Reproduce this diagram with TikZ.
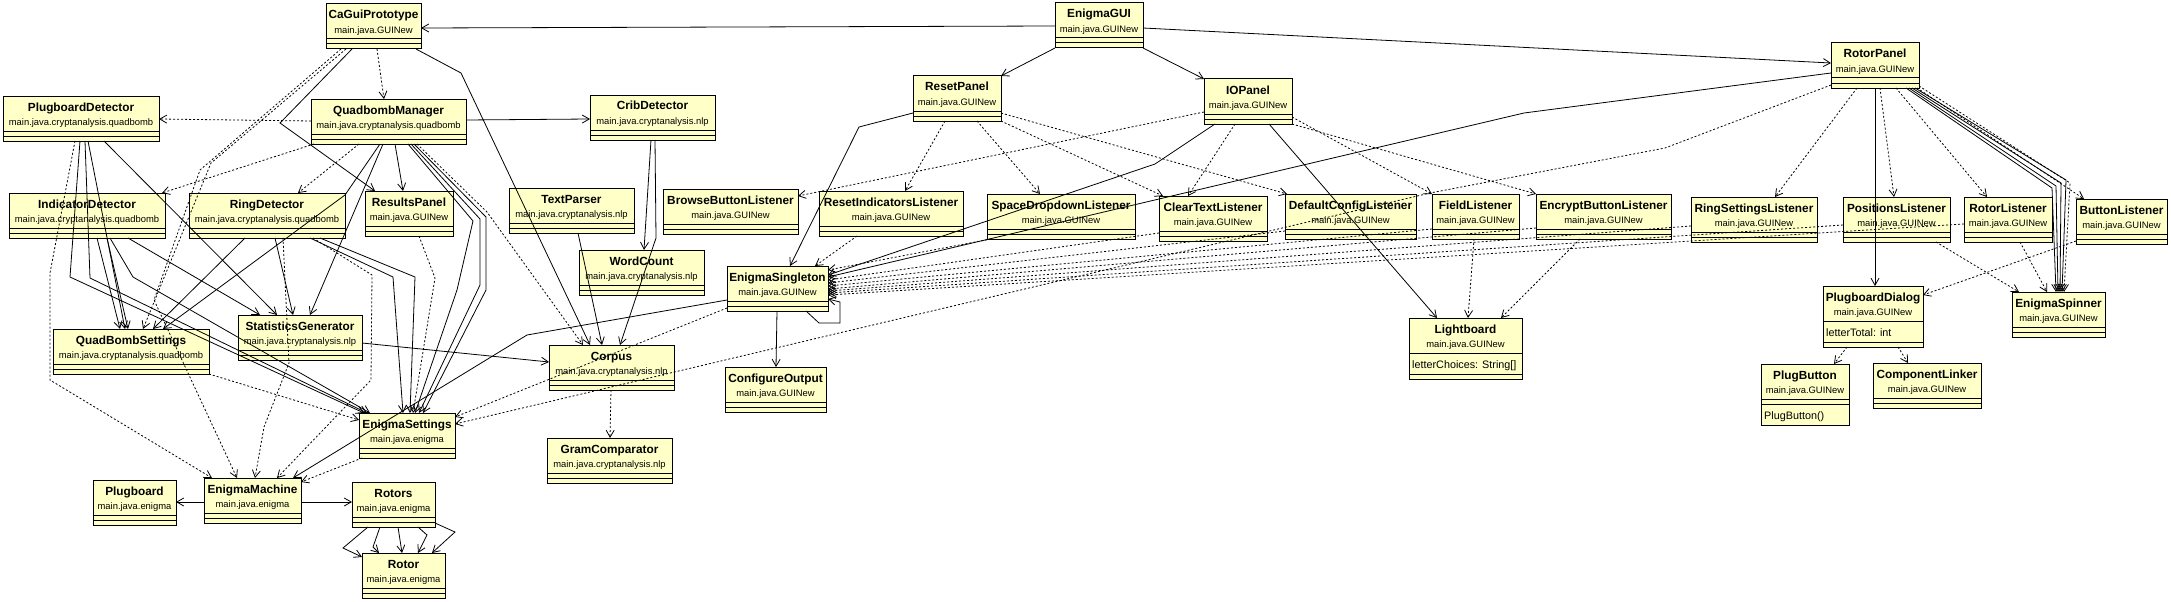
\documentclass[tikz,border=0pt]{standalone}
\usepackage{fontspec}
\setmainfont{Liberation Sans}
\usetikzlibrary{arrows.meta,calc}
\definecolor{clsfill}{RGB}{255,255,200}
\tikzset{
  clsbox/.style={draw=black, fill=clsfill, line width=1pt, rectangle, inner sep=0pt, outer sep=0pt},
  ttl/.style={anchor=base, inner sep=0pt, font=\bfseries\fontsize{11.8}{12}\selectfont},
  pkg/.style={anchor=base, inner sep=0pt, font=\fontsize{9.4}{10}\selectfont},
  attr/.style={anchor=base west, inner sep=0pt, font=\fontsize{10.8}{11}\selectfont},
  sepline/.style={line width=1pt},
  conn/.style={line width=0.8pt, -{Straight Barb[length=7pt,width=8pt]}},
  dep/.style={conn, dash pattern=on 2pt off 2pt},
}
% name, x1, y1, x2, y2, title, package
\newcommand\umlbox[7]{%
  \node[clsbox, minimum width={(#4)-(#2)}, minimum height={(#5)-(#3)}] (#1) at ({((#2)+(#4))/2},{((#3)+(#5))/2}) {};
  \node[ttl] at ({((#2)+(#4))/2},{(#3)+15}) {#6};
  \node[pkg] at ({((#2)+(#4))/2},{(#3)+29.5}) {#7};
  \draw[sepline] ({#2},{(#3)+35}) -- ({#4},{(#3)+35});
  \draw[sepline] ({#2},{(#3)+40}) -- ({#4},{(#3)+40});
}
% with one attribute
\newcommand\umlboxA[8]{%
  \node[clsbox, minimum width={(#4)-(#2)}, minimum height={(#5)-(#3)}] (#1) at ({((#2)+(#4))/2},{((#3)+(#5))/2}) {};
  \node[ttl] at ({((#2)+(#4))/2},{(#3)+15}) {#6};
  \node[pkg] at ({((#2)+(#4))/2},{(#3)+29.5}) {#7};
  \draw[sepline] ({#2},{(#3)+35}) -- ({#4},{(#3)+35});
  \node[attr] at ({(#2)+3},{(#3)+50}) {#8};
  \draw[sepline] ({#2},{(#3)+56}) -- ({#4},{(#3)+56});
}
\begin{document}
\begin{tikzpicture}[x=1pt,y=-1pt]
\fill[white] (0,0) rectangle (2171,602);
\useasboundingbox (0,0) rectangle (2171,602);

% ---------- classes ----------
\umlbox{CGP}{326}{4}{421}{49}{CaGuiPrototype}{main.java.GUINew}
\umlbox{EG}{1055}{3}{1143}{48}{EnigmaGUI}{main.java.GUINew}
\umlbox{RP}{1831}{43}{1919}{88}{RotorPanel}{main.java.GUINew}
\umlbox{PD}{3}{96}{159}{141}{PlugboardDetector}{main.java.cryptanalysis.quadbomb}
\umlbox{QM}{311}{99}{466}{144}{QuadbombManager}{main.java.cryptanalysis.quadbomb}
\umlbox{CD}{590}{95}{715}{140}{CribDetector}{main.java.cryptanalysis.nlp}
\umlbox{RsP}{913}{76}{1001}{121}{ResetPanel}{main.java.GUINew}
\umlbox{IOP}{1204}{79}{1292}{124}{IOPanel}{main.java.GUINew}
\umlbox{ID}{9}{193}{165}{238}{IndicatorDetector}{main.java.cryptanalysis.quadbomb}
\umlbox{RD}{189}{193}{345}{238}{RingDetector}{main.java.cryptanalysis.quadbomb}
\umlbox{RsltP}{365}{191}{453}{236}{ResultsPanel}{main.java.GUINew}
\umlbox{TP}{509}{188}{634}{233}{TextParser}{main.java.cryptanalysis.nlp}
\umlbox{BBL}{663}{189}{798}{234}{BrowseButtonListener}{main.java.GUINew}
\umlbox{RIL}{819}{191}{963}{236}{ResetIndicatorsListener}{main.java.GUINew}
\umlbox{SDL}{987}{194}{1135}{239}{SpaceDropdownListener}{main.java.GUINew}
\umlbox{CTL}{1159}{196}{1267}{241}{ClearTextListener}{main.java.GUINew}
\umlbox{DCL}{1285}{194}{1416}{239}{DefaultConfigListener}{main.java.GUINew}
\umlbox{FL}{1432}{194}{1519}{239}{FieldListener}{main.java.GUINew}
\umlbox{EBL}{1536}{194}{1671}{239}{EncryptButtonListener}{main.java.GUINew}
\umlbox{RSL}{1691}{197}{1817}{242}{RingSettingsListener}{main.java.GUINew}
\umlbox{PosL}{1843}{197}{1950}{242}{PositionsListener}{main.java.GUINew}
\umlbox{RL}{1964}{197}{2052}{242}{RotorListener}{main.java.GUINew}
\umlbox{BL}{2076}{199}{2167}{244}{ButtonListener}{main.java.GUINew}
\umlbox{WC}{579}{250}{704}{295}{WordCount}{main.java.cryptanalysis.nlp}
\umlbox{ESing}{727}{266}{828}{311}{EnigmaSingleton}{main.java.GUINew}
\umlbox{QBS}{53}{329}{209}{374}{QuadBombSettings}{main.java.cryptanalysis.quadbomb}
\umlbox{SG}{238}{315}{362}{360}{StatisticsGenerator}{main.java.cryptanalysis.nlp}
\umlbox{Corpus}{549}{345}{674}{390}{Corpus}{main.java.cryptanalysis.nlp}
\umlbox{CO}{725}{367}{826}{412}{ConfigureOutput}{main.java.GUINew}
\umlboxA{LB}{1409}{318}{1522}{379}{Lightboard}{main.java.GUINew}{letterChoices: String[]}
\umlboxA{PDlg}{1823}{286}{1923}{347}{PlugboardDialog}{main.java.GUINew}{letterTotal: int}
\umlbox{ESp}{2012}{292}{2105}{337}{EnigmaSpinner}{main.java.GUINew}
\umlbox{PB}{1761}{364}{1849}{425}{PlugButton}{main.java.GUINew}
\node[attr] (PBm) at (1764,419) {PlugButton()};
\umlbox{CL}{1873}{363}{1981}{408}{ComponentLinker}{main.java.GUINew}
\umlbox{ES}{359}{413}{455}{458}{EnigmaSettings}{main.java.enigma}
\umlbox{GC}{547}{438}{672}{483}{GramComparator}{main.java.cryptanalysis.nlp}
\umlbox{PBd}{93}{480}{176}{525}{Plugboard}{main.java.enigma}
\umlbox{EM}{204}{478}{301}{523}{EnigmaMachine}{main.java.enigma}
\umlbox{Rotors}{352}{482}{435}{527}{Rotors}{main.java.enigma}
\umlbox{Rotor}{362}{553}{445}{598}{Rotor}{main.java.enigma}

% ---------- associations (solid) ----------
\draw[conn] ($(EG.north west)+(0,23)$) -- ($(CGP.north west)+(95,24)$);
\draw[conn] ($(EG.north west)+(0,45)$) -- ($(RsP.north west)+(88,0)$);
\draw[conn] ($(EG.north west)+(88,45)$) -- ($(IOP.north west)+(0,0)$);
\draw[conn] ($(EG.north west)+(88,25)$) -- ($(RP.north west)+(0,20)$);
\draw[conn] ($(QM.north west)+(155,21)$) -- ($(CD.north west)+(0,24)$);
\draw[conn] ($(CGP.north west)+(26,45)$) -- (280,123) -- ($(RsltP.north west)+(10,0)$);
\draw[conn] ($(CGP.north west)+(90,45)$) -- (461,73) -- ($(Corpus.north west)+(41,0)$);
\draw[conn] ($(CD.north west)+(61,45)$) -- ($(WC.north west)+(65,0)$);
\draw[conn] ($(CD.north west)+(65,45)$) -- (656,238) -- ($(Corpus.north west)+(71,0)$);
\draw[conn] ($(TP.north west)+(69,45)$) -- ($(Corpus.north west)+(53,0)$);
\draw[conn] ($(SG.north west)+(124,28)$) -- ($(Corpus.north west)+(0,17)$);
\draw[conn] ($(PD.north west)+(101,45)$) -- ($(SG.north west)+(39,0)$);
\draw[conn] ($(PD.north west)+(77,45)$) -- (70,277) -- ($(ES.north west)+(5,0)$);
\draw[conn] ($(PD.north west)+(82,45)$) -- (90,278) -- ($(ES.north west)+(8,0)$);
\draw[conn] ($(PD.north west)+(85,45)$) -- ($(QBS.north west)+(72,0)$);
\draw[conn] ($(ID.north west)+(88,45)$) -- ($(QBS.north west)+(67,0)$);
\draw[conn] ($(ID.north west)+(98,45)$) -- ($(QBS.north west)+(75,0)$);
\draw[conn] ($(ID.north west)+(101,45)$) -- (133,277) -- ($(ES.north west)+(11,0)$);
\draw[conn] ($(ID.north west)+(119,45)$) -- ($(SG.north west)+(22,0)$);
\draw[conn] ($(RD.north west)+(56,45)$) -- ($(QBS.north west)+(100,0)$);
\draw[conn] ($(RD.north west)+(86,45)$) -- ($(SG.north west)+(55,0)$);
\draw[conn] ($(RD.north west)+(121,45)$) -- (393,277) -- ($(ES.north west)+(44,0)$);
\draw[conn] ($(RD.north west)+(131,45)$) -- (415,277) -- ($(ES.north west)+(51,0)$);
\draw[conn] ($(QM.north west)+(69,45)$) -- (345,195) -- ($(QBS.north west)+(110,0)$);
\draw[conn] ($(QM.north west)+(72,45)$) -- ($(SG.north west)+(72,0)$);
\draw[conn] ($(QM.north west)+(84,45)$) -- ($(RsltP.north west)+(38,0)$);
\draw[conn] ($(QM.north west)+(97,45)$) -- (473,221) -- (457,290) -- ($(ES.north west)+(56,0)$);
\draw[conn] ($(QM.north west)+(100,45)$) -- (480,219) -- (480,285) -- ($(ES.north west)+(60,0)$);
\draw[conn] ($(QM.north west)+(103,45)$) -- (486,217) -- (486,290) -- ($(ES.north west)+(64,0)$);
\draw[conn] ($(ESing.north west)+(0,34)$) -- (527,335) -- ($(EM.north west)+(89,0)$);
\draw[conn] ($(ESing.north west)+(50,45)$) -- ($(CO.north west)+(51,0)$);
\draw[conn] ($(ESing.north west)+(79,45)$) -- (819,323) -- (840,323) -- (840,302) -- ($(ESing.north west)+(101,33)$);
\draw[conn] ($(RsP.north west)+(0,37)$) -- (859,127) -- ($(ESing.north west)+(63,0)$);
\draw[conn] ($(IOP.north west)+(11,45)$) -- (1155,164) -- ($(ESing.north west)+(101,9)$);
\draw[conn] ($(IOP.north west)+(65,45)$) -- ($(LB.north west)+(28,0)$);
\draw[conn] ($(RP.north west)+(0,30)$) -- (1524,113) -- ($(ESing.north west)+(101,11)$);
\draw[conn] ($(RP.north west)+(44,45)$) -- ($(PDlg.north west)+(52,0)$);
\draw[conn] ($(RP.north west)+(75,45)$) -- (2052,188) -- ($(ESp.north west)+(44,0)$);
\draw[conn] ($(RP.north west)+(78,45)$) -- (2056,186) -- ($(ESp.north west)+(46,0)$);
\draw[conn] ($(RP.north west)+(81,45)$) -- (2061,183) -- ($(ESp.north west)+(48,0)$);
\draw[conn] ($(RP.north west)+(84,45)$) -- (2066,180) -- ($(ESp.north west)+(50,0)$);
\draw[conn] ($(EM.north west)+(0,24)$) -- ($(PBd.north west)+(83,22)$);
\draw[conn] ($(EM.north west)+(97,24)$) -- ($(Rotors.north west)+(0,20)$);
\draw[conn] ($(Rotors.north west)+(16,45)$) -- (343,548) -- ($(Rotor.north west)+(0,4)$);
\draw[conn] ($(Rotors.north west)+(28,45)$) -- (373,547) -- ($(Rotor.north west)+(17,0)$);
\draw[conn] ($(Rotors.north west)+(46,45)$) -- ($(Rotor.north west)+(40,0)$);
\draw[conn] ($(Rotors.north west)+(66,45)$) -- (427,535) -- ($(Rotor.north west)+(56,0)$);
\draw[conn] ($(Rotors.north west)+(83,41)$) -- (455,532) -- ($(Rotor.north west)+(70,0)$);

% ---------- dependencies (dashed) ----------
\draw[dep] ($(CGP.north west)+(51,45)$) -- ($(QM.north west)+(73,0)$);
\draw[dep] ($(QM.north west)+(0,22)$) -- ($(PD.north west)+(156,23)$);
\draw[dep] ($(CGP.north west)+(20,45)$) -- (211,163) -- ($(QBS.north west)+(90,0)$);
\draw[dep] ($(CGP.north west)+(15,45)$) -- (200,170) -- (154,300) -- ($(EM.north west)+(33,0)$);
\draw[dep] ($(PD.north west)+(72,45)$) -- (50,273) -- (50,380) -- ($(EM.north west)+(8,0)$);
\draw[dep] ($(QM.north west)+(3,45)$) -- ($(ID.north west)+(153,0)$);
\draw[dep] ($(QM.north west)+(48,45)$) -- ($(RD.north west)+(109,0)$);
\draw[dep] ($(QM.north west)+(106,45)$) -- (487,212) -- ($(Corpus.north west)+(34,0)$);
\draw[dep] ($(RD.north west)+(94,45)$) -- (289,363) -- (264,427) -- ($(EM.north west)+(51,0)$);
\draw[dep] ($(RD.north west)+(124,45)$) -- (372,275) -- (371,380) -- ($(EM.north west)+(73,0)$);
\draw[dep] ($(RsltP.north west)+(54,45)$) -- (435,278) -- ($(ES.north west)+(54,0)$);
\draw[dep] ($(QBS.north west)+(156,45)$) -- ($(ES.north west)+(0,7)$);
\draw[dep] ($(ES.north west)+(3,45)$) -- ($(EM.north west)+(97,4)$);
\draw[dep] ($(ESing.north west)+(0,42)$) -- ($(ES.north west)+(96,4)$);
\draw[dep] ($(RP.north west)+(0,42)$) -- (1665,148) -- (1430,193) -- ($(ES.north west)+(96,11)$);
\draw[dep] ($(Corpus.north west)+(62,45)$) -- ($(GC.north west)+(63,0)$);
\draw[dep] ($(RsP.north west)+(32,45)$) -- ($(RIL.north west)+(86,0)$);
\draw[dep] ($(RsP.north west)+(64,45)$) -- ($(SDL.north west)+(53,0)$);
\draw[dep] ($(RsP.north west)+(88,45)$) -- ($(CTL.north west)+(4,0)$);
\draw[dep] ($(RsP.north west)+(88,37)$) -- ($(DCL.north west)+(2,0)$);
\draw[dep] ($(IOP.north west)+(0,33)$) -- ($(BBL.north west)+(135,7)$);
\draw[dep] ($(IOP.north west)+(31,45)$) -- ($(CTL.north west)+(29,0)$);
\draw[dep] ($(IOP.north west)+(88,38)$) -- ($(FL.north west)+(0,0)$);
\draw[dep] ($(IOP.north west)+(88,45)$) -- ($(EBL.north west)+(0,0)$);
\draw[dep] ($(RIL.north west)+(38,45)$) -- ($(ESing.north west)+(88,0)$);
\draw[dep] ($(SDL.north west)+(4,45)$) -- ($(ESing.north west)+(101,4)$);
\draw[dep] ($(CTL.north west)+(0,37)$) -- ($(ESing.north west)+(101,14)$);
\draw[dep] ($(DCL.north west)+(0,37)$) -- ($(ESing.north west)+(101,17)$);
\draw[dep] ($(FL.north west)+(0,35)$) -- ($(ESing.north west)+(101,20)$);
\draw[dep] ($(EBL.north west)+(0,34)$) -- ($(ESing.north west)+(101,23)$);
\draw[dep] ($(RSL.north west)+(0,29)$) -- ($(ESing.north west)+(101,25)$);
\draw[dep] ($(PosL.north west)+(0,28)$) -- ($(ESing.north west)+(101,27)$);
\draw[dep] ($(RL.north west)+(0,27)$) -- ($(ESing.north west)+(101,29)$);
\draw[dep] ($(RP.north west)+(26,45)$) -- ($(RSL.north west)+(84,0)$);
\draw[dep] ($(RP.north west)+(49,45)$) -- ($(PosL.north west)+(51,0)$);
\draw[dep] ($(RP.north west)+(65,45)$) -- ($(RL.north west)+(23,0)$);
\draw[dep] ($(RP.north west)+(86,45)$) -- ($(BL.north west)+(8,0)$);
\draw[dep] ($(RP.north west)+(88,43)$) -- (2070,183) -- ($(ESp.north west)+(52,0)$);
\draw[dep] ($(PosL.north west)+(93,45)$) -- ($(ESp.north west)+(7,0)$);
\draw[dep] ($(RL.north west)+(56,45)$) -- ($(ESp.north west)+(35,0)$);
\draw[dep] ($(BL.north west)+(0,42)$) -- ($(PDlg.north west)+(100,9)$);
\draw[dep] ($(PDlg.north west)+(24,61)$) -- ($(PB.north west)+(73,0)$);
\draw[dep] ($(PDlg.north west)+(75,61)$) -- ($(CL.north west)+(35,0)$);
\draw[dep] ($(FL.north west)+(42,45)$) -- ($(LB.north west)+(59,0)$);
\draw[dep] ($(EBL.north west)+(44,45)$) -- ($(LB.north west)+(92,0)$);
\end{tikzpicture}
\end{document}
